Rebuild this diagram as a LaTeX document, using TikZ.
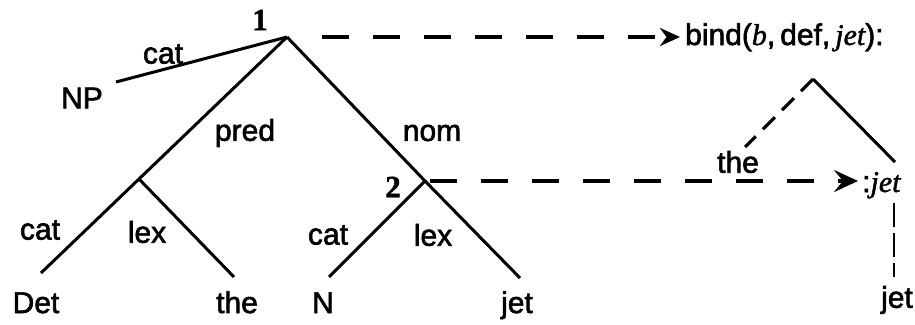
\documentclass[tikz,border=0pt]{standalone}
\usepackage{fontspec}
\setmainfont{Liberation Sans}[FakeBold=2]
\newfontfamily\seriffam{Liberation Serif}[FakeBold=1.5]
\newcommand{\itx}[1]{{\seriffam\itshape #1}}
\usetikzlibrary{arrows.meta}
\begin{document}
\begin{tikzpicture}[x=1pt,y=-1pt,
  lbl/.style={font=\fontsize{30}{32}\selectfont, inner sep=0pt},
  num/.style={font=\fontsize{31}{33}\selectfont\seriffam\bfseries, inner sep=0pt},
  edge/.style={line width=3pt},
  dsh/.style={line width=3.4pt, dash pattern=on 27pt off 24pt},
  sdsh/.style={line width=3.2pt, dash pattern=on 17pt off 10pt},
  vdsh/.style={line width=2.2pt, dash pattern=on 24pt off 6pt}]
\useasboundingbox (0,0) rectangle (915,324);
% tree coordinates
\coordinate (n1) at (287,37);
\coordinate (npend) at (116,82);
\coordinate (nL) at (139,179);
\coordinate (detend) at (41,273);
\coordinate (theend) at (234,277);
\coordinate (n2) at (425,181);
\coordinate (nend) at (329,277);
\coordinate (jetend) at (520,278);
% labels
\node[num] (one) at (260,20) {1};
\node[num] (two) at (393,187) {2};
\node[lbl] (np) at (82,98) {NP};
\node[lbl] (catnp) at (163,54) {cat};
\node[lbl] (pred) at (245,133) {pred};
\node[lbl] (nom) at (432,133) {nom};
\node[lbl] (catl) at (40,230) {cat};
\node[lbl] (lexl) at (147,232) {lex};
\node[lbl] (catr) at (328,235) {cat};
\node[lbl] (lexr) at (433,235) {lex};
\node[lbl, anchor=base] (det) at (36,313) {Det};
\node[lbl, anchor=base] (the) at (237,313) {the};
\node[lbl, anchor=base] (n) at (323,313) {N};
\node[lbl, anchor=base] (jet) at (517,313) {jet};
% tree edges
\draw[edge] (npend) -- (n1);
\draw[edge] (n1) -- (nL) -- (detend);
\draw[edge] (nL) -- (theend);
\draw[edge] (n1) -- (n2) -- (nend);
\draw[edge] (n2) -- (jetend);
% right structure
\node[lbl, anchor=base west] (bind) at (685,45) {bind(\itx{b},\,def,\,\itx{jet}):};
\node[lbl, anchor=base west] (rjet) at (862,192) {:\itx{jet}};
\node[lbl] (rthe) at (738,162) {the};
\node[lbl] (rjet2) at (897,300) {jet};
\coordinate (rA) at (813,79);
\coordinate (rB) at (895,162);
\coordinate (rC) at (745,147);
\coordinate (vt) at (894,203);
\coordinate (vb) at (894,277);
\draw[edge] (rA) -- (rB);
\draw[sdsh] (rA) -- (rC);
\draw[vdsh] (vt) -- (vb);
% dashed arrows
\draw[dsh, shorten <=35pt, shorten >=5pt, -{Stealth[length=20pt,width=18pt]}] (n1) -- (n1 -| bind.west);
\draw[dsh, shorten <=5pt, shorten >=4pt, -{Stealth[length=24pt,width=22pt,inset=9pt]}] (n2) -- (n2 -| rjet.west);
\end{tikzpicture}
\end{document}
